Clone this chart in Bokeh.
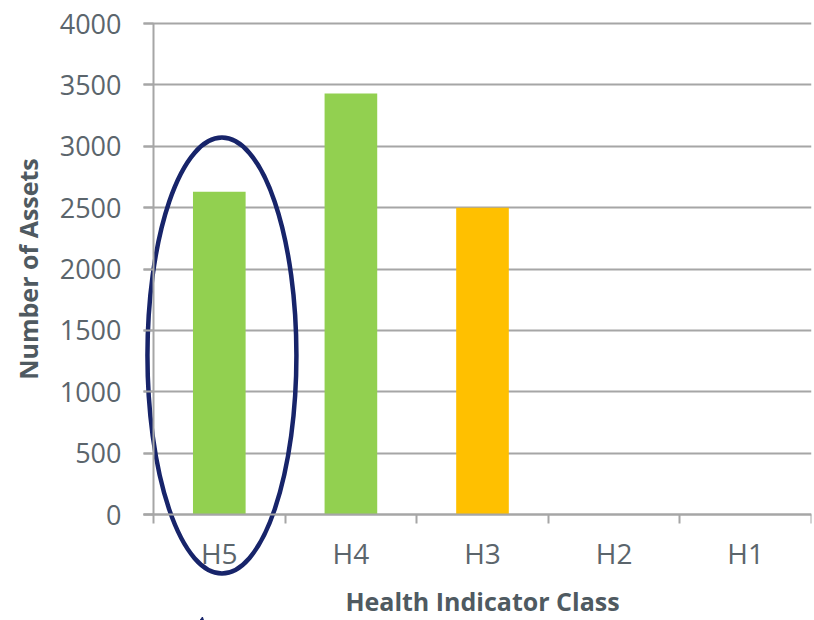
from bokeh.plotting import figure
from bokeh.models import FixedTicker, LinearAxis, Range1d, Arrow, NormalHead
from bokeh.embed import file_html
from bokeh.resources import INLINE

# ---- data ----
classes = ["H5", "H4", "H3", "H2", "H1"]
assets = [2630, 3430, 2500, 0, 0]
bar_colors = ["#92D050", "#92D050", "#FFC000", "#92D050", "#92D050"]
y_ticks = [0, 500, 1000, 1500, 2000, 2500, 3000, 3500, 4000]

n = len(classes)
centers = [i + 0.5 for i in range(n)]
bounds_ticks = [float(i) for i in range(n + 1)]

TICK_COLOR = "#5b656c"
TITLE_COLOR = "#4f5a61"
GRID = "#a6a6a6"
FONT = "Open Sans"

X_LEFT = -0.076  # gridlines start 10px left of the y axis

p = figure(width=814, height=620, output_backend="svg", toolbar_location=None,
           x_range=Range1d(-1.1626, 5.0), y_range=Range1d(-863.5, 4187.4),
           min_border_left=0, min_border_right=3, min_border_top=0,
           min_border_bottom=0, outline_line_color=None, title=None)
p.background_fill_color = "white"
p.border_fill_color = "white"

p.vbar(x=centers, top=assets, width=0.4, color=bar_colors, line_color=None)

# highlight ellipse around H5
p.ellipse(x=[centers[0] + 0.02], y=[1295], width=[1.132], height=[3552],
          fill_color=None, line_color="#17246a", line_width=4.5)

# arrow tip pointing at the ellipse (cut off at the bottom)
p.add_layout(Arrow(x_start=0.33, y_start=-1100, x_end=0.372, y_end=-835,
                   line_color="#17246a", line_width=3,
                   end=NormalHead(size=14, fill_color="#17246a", line_color="#17246a")))

# grid
p.xgrid.visible = False
p.ygrid.ticker = FixedTicker(ticks=y_ticks)
p.ygrid.grid_line_color = GRID
p.ygrid.grid_line_width = 2
try:
    p.ygrid.cross_bounds = (X_LEFT, float(n))
except Exception:
    p.ygrid.visible = False
    p.segment(x0=[X_LEFT] * len(y_ticks), x1=[float(n)] * len(y_ticks),
              y0=y_ticks, y1=y_ticks, line_color=GRID, line_width=2, level="underlay")

# y axis
ya = p.yaxis[0]
ya.ticker = FixedTicker(ticks=y_ticks)
ya.fixed_location = 0
ya.bounds = (0, 4000)
ya.axis_line_color = GRID
ya.axis_line_width = 2
ya.major_tick_line_color = GRID
ya.major_tick_line_width = 2
ya.major_tick_out = 10
ya.major_tick_in = 0
ya.minor_tick_line_color = None
ya.major_label_standoff = 22
ya.major_label_text_font = FONT
ya.major_label_text_font_size = "27px"
ya.major_label_text_color = TICK_COLOR
ya.axis_label = "Number of Assets"
ya.axis_label_text_font = FONT
ya.axis_label_text_font_style = "bold"
ya.axis_label_text_font_size = "25px"
ya.axis_label_text_color = TITLE_COLOR
ya.axis_label_standoff = 12

# x axis: boundary ticks
xa = p.xaxis[0]
xa.ticker = FixedTicker(ticks=bounds_ticks)
xa.fixed_location = 0
xa.bounds = (X_LEFT, float(n))
xa.axis_line_color = GRID
xa.axis_line_width = 2
xa.major_tick_line_color = GRID
xa.major_tick_line_width = 2
xa.major_tick_out = 9
xa.major_tick_in = 0
xa.minor_tick_line_color = None
xa.major_label_text_color = None
xa.major_label_text_font_size = "1px"

# x axis: category labels at centers
xl = LinearAxis(ticker=FixedTicker(ticks=centers),
                major_label_overrides={c: lab for c, lab in zip(centers, classes)})
xl.fixed_location = 0
xl.bounds = (0, n)
xl.axis_line_color = None
xl.major_tick_line_color = None
xl.minor_tick_line_color = None
xl.major_label_standoff = 13
xl.major_label_text_font = FONT
xl.major_label_text_font_size = "28px"
xl.major_label_text_color = TICK_COLOR
xl.axis_label = "Health Indicator Class"
xl.axis_label_text_font = FONT
xl.axis_label_text_font_style = "bold"
xl.axis_label_text_font_size = "25px"
xl.axis_label_text_color = TITLE_COLOR
xl.axis_label_standoff = 9
p.add_layout(xl, "below")

open("out.html", "w").write(file_html(p, INLINE))
